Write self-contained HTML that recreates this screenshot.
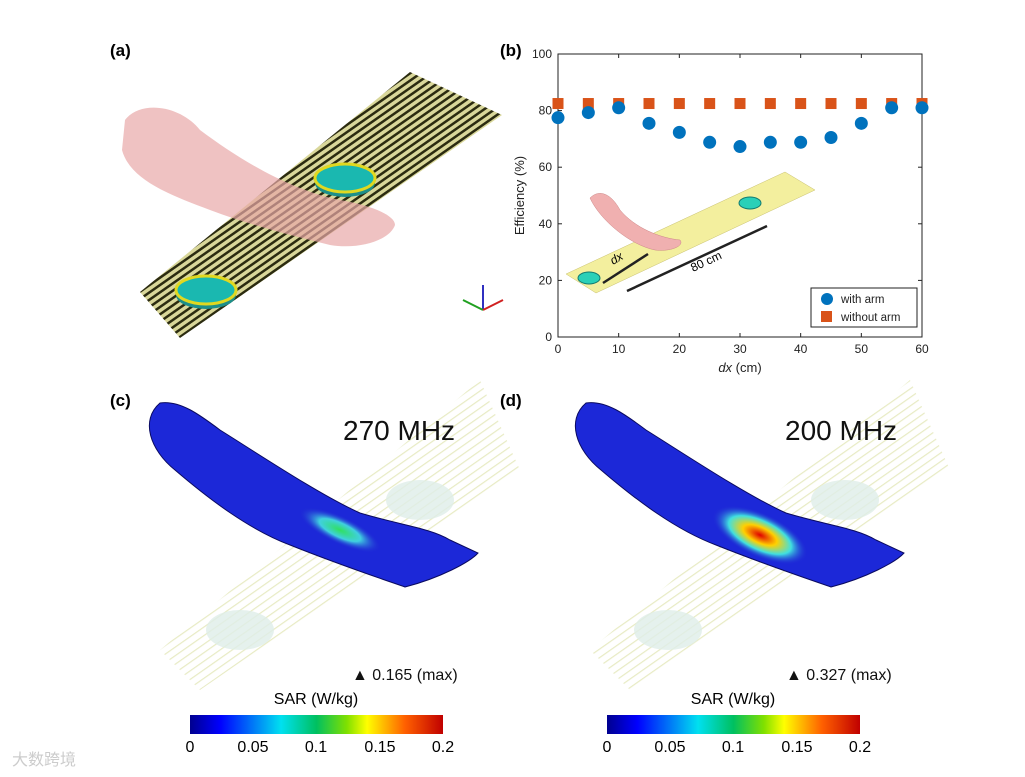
<!DOCTYPE html>
<html><head><meta charset="utf-8">
<style>
body{margin:0;background:#fff;font-family:"Liberation Sans",Arial,sans-serif;}
svg{display:block}
</style></head>
<body>
<svg width="1025" height="777" viewBox="0 0 1025 777" font-family="Liberation Sans, Arial, sans-serif">
<defs>
<pattern id="stripes" width="6" height="6" patternUnits="userSpaceOnUse" patternTransform="rotate(-35)">
<rect width="6" height="6" fill="#d9d79a"/><rect width="6" height="2.5" fill="#2b2b10"/>
</pattern>
<pattern id="faint" width="7" height="7" patternUnits="userSpaceOnUse" patternTransform="rotate(-35)">
<rect width="7" height="7" fill="#fff"/><rect width="7" height="1.2" fill="#e8ebc4"/>
</pattern>
<linearGradient id="jet" x1="0" x2="1">
<stop offset="0" stop-color="#00008f"/><stop offset="0.12" stop-color="#0000ff"/>
<stop offset="0.36" stop-color="#00e0f0"/><stop offset="0.5" stop-color="#00c060"/>
<stop offset="0.62" stop-color="#80e000"/><stop offset="0.7" stop-color="#ffff00"/>
<stop offset="0.85" stop-color="#ff6000"/><stop offset="1" stop-color="#c00000"/>
</linearGradient>
<radialGradient id="hot1" cx="0.5" cy="0.5" r="0.5">
<stop offset="0" stop-color="#30e060"/><stop offset="0.5" stop-color="#40d0e0"/><stop offset="1" stop-color="#2020d0" stop-opacity="0"/>
</radialGradient>
<radialGradient id="hot2" cx="0.5" cy="0.5" r="0.5">
<stop offset="0" stop-color="#e00000"/><stop offset="0.35" stop-color="#ffd000"/><stop offset="0.65" stop-color="#40e0e0"/><stop offset="1" stop-color="#2020d0" stop-opacity="0"/>
</radialGradient>
</defs>

<!-- Panel a -->
<text x="110" y="56" font-size="17" font-weight="bold">(a)</text>
<g>
<polygon points="140,292 180,338 502,115 410,72" fill="url(#stripes)"/>
<ellipse cx="345" cy="183" rx="30" ry="14" fill="#1d8f8a"/>
<ellipse cx="345" cy="178" rx="30" ry="14" fill="#1ab8b0" stroke="#e0d820" stroke-width="3"/>
<ellipse cx="206" cy="295" rx="30" ry="14" fill="#1d8f8a"/>
<ellipse cx="206" cy="290" rx="30" ry="14" fill="#1ab8b0" stroke="#e0d820" stroke-width="3"/>
<path d="M125,120 C140,100 180,105 200,130 C240,160 290,190 340,200 C370,205 395,215 395,225 C390,240 360,250 330,245 C290,235 250,225 210,210 C170,195 130,180 122,150 Z" fill="#e8a8a8" opacity="0.7"/>
<g stroke-width="2"><line x1="483" y1="310" x2="483" y2="285" stroke="#3030c0"/><line x1="483" y1="310" x2="463" y2="300" stroke="#20a020"/><line x1="483" y1="310" x2="503" y2="300" stroke="#d02020"/></g>
</g>

<!-- Panel b chart -->
<text x="500" y="56" font-size="17" font-weight="bold">(b)</text>
<g id="chartB"></g>

<!-- Panel c -->
<text x="110" y="406" font-size="17" font-weight="bold">(c)</text>
<g>
<polygon points="160,650 200,690 520,470 480,380" fill="url(#faint)"/>
<ellipse cx="420" cy="500" rx="34" ry="20" fill="#dfeee8" opacity="0.8"/>
<ellipse cx="240" cy="630" rx="34" ry="20" fill="#dfeee8" opacity="0.8"/>
<path d="M160,403 C180,400 200,415 220,430 C260,455 320,495 360,513 C400,525 430,528 450,540 L478,553 C470,562 440,578 405,587 C385,580 340,565 290,545 C250,530 210,500 175,470 C150,450 140,420 160,403 Z" fill="#1c28d8" stroke="#0a0a60" stroke-width="1"/>
<ellipse cx="340" cy="530" rx="45" ry="14" transform="rotate(25 340 530)" fill="url(#hot1)"/>
<text x="343" y="440" font-size="28" fill="#111">270 MHz</text>
<text x="352" y="680" font-size="16" fill="#111">▲ 0.165 (max)</text>
</g>

<!-- Panel d -->
<text x="500" y="406" font-size="17" font-weight="bold">(d)</text>
<g>
<polygon points="590,650 630,690 950,470 910,380" fill="url(#faint)"/>
<ellipse cx="845" cy="500" rx="34" ry="20" fill="#dfeee8" opacity="0.8"/>
<ellipse cx="668" cy="630" rx="34" ry="20" fill="#dfeee8" opacity="0.8"/>
<path d="M586,403 C606,400 626,415 646,430 C686,455 746,495 786,513 C826,525 856,528 876,540 L904,553 C896,562 866,578 831,587 C811,580 766,565 716,545 C676,530 636,500 601,470 C576,450 566,420 586,403 Z" fill="#1c28d8" stroke="#0a0a60" stroke-width="1"/>
<ellipse cx="760" cy="535" rx="52" ry="22" transform="rotate(25 760 535)" fill="url(#hot2)"/>
<text x="785" y="440" font-size="28" fill="#111">200 MHz</text>
<text x="786" y="680" font-size="16" fill="#111">▲ 0.327 (max)</text>
</g>

<!-- Colorbars -->
<g>
<text x="316" y="704" font-size="16" text-anchor="middle">SAR (W/kg)</text>
<rect x="190" y="715" width="253" height="19" fill="url(#jet)"/>
<g font-size="16" text-anchor="middle"><text x="190" y="752">0</text><text x="253" y="752">0.05</text><text x="316" y="752">0.1</text><text x="380" y="752">0.15</text><text x="443" y="752">0.2</text></g>
</g>
<g>
<text x="733" y="704" font-size="16" text-anchor="middle">SAR (W/kg)</text>
<rect x="607" y="715" width="253" height="19" fill="url(#jet)"/>
<g font-size="16" text-anchor="middle"><text x="607" y="752">0</text><text x="670" y="752">0.05</text><text x="733" y="752">0.1</text><text x="797" y="752">0.15</text><text x="860" y="752">0.2</text></g>
</g>
<text x="12" y="765" font-size="16" fill="#ccc">大数跨境</text>
</svg>

<script>
const dxValues=[0,5,10,15,20,25,30,35,40,45,50,55,60];
const withArm=[77.5,79.3,81,75.5,72.3,68.8,67.3,68.8,68.8,70.5,75.5,81,81];
const withoutArm=[82.5,82.5,82.5,82.5,82.5,82.5,82.5,82.5,82.5,82.5,82.5,82.5,82.5];
const xTicks=[0,10,20,30,40,50,60];
const yTicks=[0,20,40,60,80,100];

const NS="http://www.w3.org/2000/svg";
const g=document.getElementById('chartB');
const L=558,R=922,T=54,B=337;
const xs=v=>L+(v-0)/(60-0)*(R-L);
const ys=v=>B-(v-0)/(100-0)*(B-T);
function mk(tag,attrs,parent){const e=document.createElementNS(NS,tag);for(const k in attrs)e.setAttribute(k,attrs[k]);(parent||g).appendChild(e);return e;}

// inset illustration
const ins=mk('g',{});


mk('polygon',{points:'566,274 596,293 815,190 785,172',fill:'#f3ef9e',stroke:'#c8c070','stroke-width':0.5},ins);
mk('ellipse',{cx:589,cy:278,rx:11,ry:6,fill:'#2ad0b8',stroke:'#137a70'},ins);
mk('ellipse',{cx:750,cy:203,rx:11,ry:6,fill:'#2ad0b8',stroke:'#137a70'},ins);
mk('path',{d:'M590,198 C600,188 612,195 620,210 C635,228 660,238 680,240 C685,246 670,252 655,250 C630,245 600,220 590,198 Z',fill:'#f0b0b0',stroke:'#c88','stroke-width':0.5},ins);
mk('line',{x1:603,y1:283,x2:648,y2:254,stroke:'#222','stroke-width':2.5},ins);
mk('line',{x1:627,y1:291,x2:767,y2:226,stroke:'#222','stroke-width':2.5},ins);
mk('text',{x:613,y:265,'font-size':12,'font-style':'italic',transform:'rotate(-30 613 265)'},ins).textContent='dx';
mk('text',{x:693,y:272,'font-size':12,transform:'rotate(-25 693 272)'},ins).textContent='80 cm';

// axes box
const box=mk('rect',{x:L,y:T,width:R-L,height:B-T,fill:'none',stroke:'#222','stroke-width':1});


xTicks.forEach(t=>{
  mk('line',{x1:xs(t),y1:B,x2:xs(t),y2:B-4,stroke:'#222'});
  mk('line',{x1:xs(t),y1:T,x2:xs(t),y2:T+4,stroke:'#222'});
  const tx=mk('text',{x:xs(t),y:B+16,'font-size':12,'text-anchor':'middle',fill:'#222'});
  
  
  tx.textContent=t;
});
yTicks.forEach(t=>{
  mk('line',{x1:L,y1:ys(t),x2:L+4,y2:ys(t),stroke:'#222'});
  mk('line',{x1:R,y1:ys(t),x2:R-4,y2:ys(t),stroke:'#222'});
  const tx=mk('text',{x:L-6,y:ys(t)+4,'font-size':12,'text-anchor':'end',fill:'#222'});
  
  
  tx.textContent=t;
});
const xt=mk('text',{x:(L+R)/2,y:B+35,'font-size':13,'text-anchor':'middle',fill:'#222'});


xt.innerHTML='<tspan font-style="italic">dx</tspan> (cm)';
const yt=mk('text',{x:524,y:(T+B)/2,'font-size':13,'text-anchor':'middle',fill:'#222',transform:`rotate(-90 524 ${(T+B)/2})`});


yt.textContent='Efficiency (%)';

withoutArm.forEach((v,i)=>{
  const r=mk('rect',{x:xs(dxValues[i])-5.5,y:ys(v)-5.5,width:11,height:11,fill:'#d95319'});
  
  
});
withArm.forEach((v,i)=>{
  const c=mk('circle',{cx:xs(dxValues[i]),cy:ys(v),r:6.5,fill:'#0072bd'});
  
  
});

// legend
const lg=mk('g',{});


mk('rect',{x:811,y:288,width:106,height:39,fill:'#fff',stroke:'#222'},lg);
mk('circle',{cx:827,cy:299,r:6,fill:'#0072bd'},lg);
mk('text',{x:841,y:303,'font-size':11.5,fill:'#222'},lg).textContent='with arm';
mk('rect',{x:821,y:311,width:11,height:11,fill:'#d95319'},lg);
mk('text',{x:841,y:321,'font-size':11.5,fill:'#222'},lg).textContent='without arm';
</script>
</body></html>
